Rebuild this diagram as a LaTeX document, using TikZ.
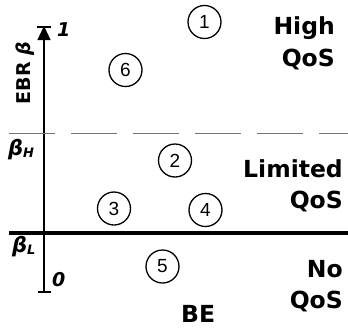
\documentclass[tikz,border=0pt]{standalone}
\usepackage{fontspec}
\setmainfont{DejaVu Sans}
\newfontfamily\digitfont{Liberation Sans}
\usetikzlibrary{arrows.meta}
\begin{document}
\begin{tikzpicture}[x=1pt,y=-1pt,
  region/.style={font=\bfseries\fontsize{23.5}{26}\selectfont,inner sep=0pt,anchor=base east},
  zone/.style={circle,draw,line width=1.3pt,minimum size=33pt,inner sep=0pt,
               font=\digitfont\fontsize{19}{20}\selectfont},
  axislabel/.style={font=\bfseries\itshape\fontsize{19}{21}\selectfont,inner sep=0pt,anchor=base west},
  betalabel/.style={font=\bfseries\itshape\fontsize{21}{23}\selectfont,inner sep=0pt,anchor=base west}]
\useasboundingbox (0,0) rectangle (348,327);

% axis end points
\coordinate (top) at (44,27);
\coordinate (bot) at (44,292);

% vertical EBR axis with end bars
\draw[line width=1.3pt,-{Triangle[length=14pt,width=13pt]}] (bot) -- ([yshift=1pt]top);
\draw[line width=2pt] ([xshift=-7pt]top) -- ([xshift=7pt]top);
\draw[line width=2pt] ([xshift=-6pt]bot) -- ([xshift=7pt]bot);

% threshold lines
\coordinate (hL) at (9,133);  \coordinate (hR) at (348,133);
\coordinate (lL) at (9,233);  \coordinate (lR) at (348,233);
\draw[black!55,line width=1pt,dash pattern=on 46pt off 16pt] (hL) -- (hR);
\draw[line width=3.5pt] (lL) -- (lR);

% axis labels
\node[axislabel] (one) at (57,36) {1};
\node[axislabel] (zero) at (52,286) {0};
\node[rotate=90,font=\bfseries\fontsize{19}{21}\selectfont,inner sep=0pt] (ebr) at (25,73) {EBR\,\,\textit{β}};
\node[betalabel] (bH) at (8,155) {β\raisebox{-2pt}{\fontsize{13}{14}\selectfont H}};
\node[betalabel] (bL) at (12,252) {β\raisebox{-2pt}{\fontsize{13}{14}\selectfont L}};

% numbered zones
\node[zone] (c1) at (204.5,22) {1};
\node[zone] (c6) at (125.5,70) {6};
\node[zone] (c2) at (175,160.5) {2};
\node[zone] (c3) at (114,208.5) {3};
\node[zone] (c4) at (205.5,210) {4};
\node[zone] (c5) at (162.5,266.5) {5};

% QoS classes
\node[region] (high) at (335,34.5) {High};
\node[region] (hq) at (335,66) {QoS};
\node[region] (lim) at (343,177) {Limited};
\node[region] (lq) at (343,208) {QoS};
\node[region] (no) at (343,277) {No};
\node[region] (nq) at (343,308) {QoS};
\node[region,anchor=base west] (be) at (181,322) {BE};
\end{tikzpicture}
\end{document}
